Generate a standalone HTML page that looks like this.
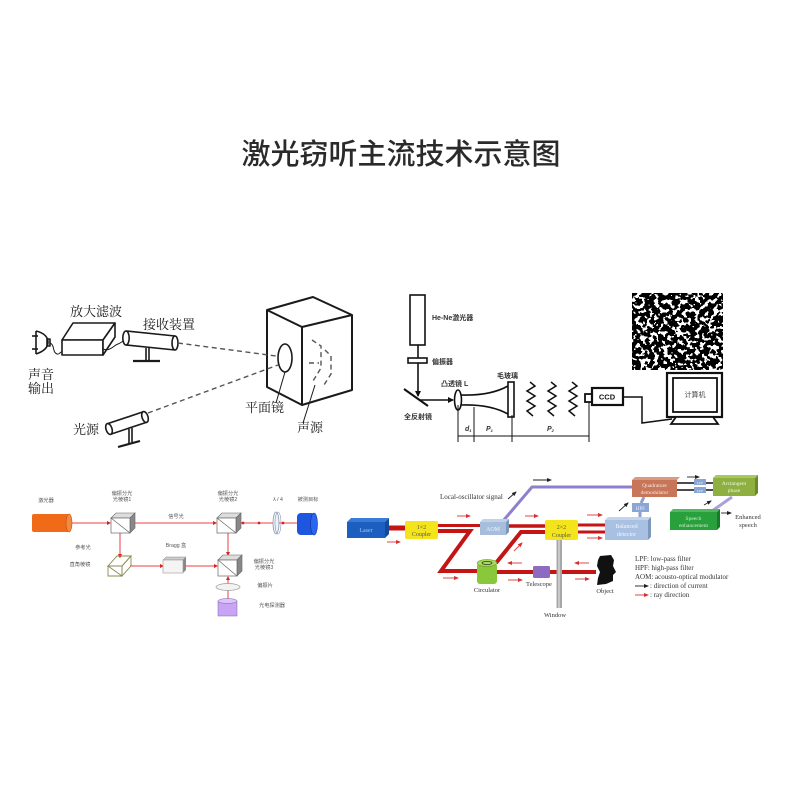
<!DOCTYPE html>
<html><head><meta charset="utf-8"><style>
html,body{margin:0;padding:0;background:#fff;width:800px;height:800px;overflow:hidden}
svg{display:block}
.sf{font-family:"Liberation Serif","Noto Serif CJK SC",serif}
.ss{font-family:"Liberation Sans","Noto Sans CJK SC",sans-serif}
</style></head><body>
<svg width="800" height="800" viewBox="0 0 800 800" xmlns="http://www.w3.org/2000/svg">
<defs>
<filter id="sp" x="0" y="0" width="1" height="1" color-interpolation-filters="sRGB">
 <feTurbulence type="fractalNoise" baseFrequency="0.22" numOctaves="2" seed="7"/>
 <feColorMatrix type="matrix" values="1 0 0 0 0 1 0 0 0 0 1 0 0 0 0 0 0 0 0 1"/>
 <feComponentTransfer>
  <feFuncR type="discrete" tableValues="0 0 0 0 0 0 0 0 0 0 0 1 1 1 1 1 1 1 1 1"/>
  <feFuncG type="discrete" tableValues="0 0 0 0 0 0 0 0 0 0 0 1 1 1 1 1 1 1 1 1"/>
  <feFuncB type="discrete" tableValues="0 0 0 0 0 0 0 0 0 0 0 1 1 1 1 1 1 1 1 1"/>
  <feFuncA type="table" tableValues="1 1"/>
 </feComponentTransfer>
</filter>
<marker id="kb" markerWidth="6" markerHeight="6" refX="5" refY="3" orient="auto" markerUnits="userSpaceOnUse"><path d="M0,0 L6,3 L0,6 Z" fill="#111"/></marker>
<marker id="ra" markerWidth="5" markerHeight="4" refX="4" refY="2" orient="auto" markerUnits="userSpaceOnUse"><path d="M0,0 L5,2 L0,4 Z" fill="#d83030"/></marker>
<marker id="ba" markerWidth="5" markerHeight="4" refX="4" refY="2" orient="auto" markerUnits="userSpaceOnUse"><path d="M0,0 L5,2 L0,4 Z" fill="#222"/></marker>
<marker id="rs" markerWidth="4" markerHeight="4" refX="3" refY="2" orient="auto" markerUnits="userSpaceOnUse"><path d="M0,0 L4,2 L0,4 Z" fill="#e02020"/></marker>
</defs>

<!-- Title -->
<text x="401" y="164" text-anchor="middle" font-family="'Liberation Sans','Noto Sans CJK SC',sans-serif" font-size="29" font-weight="500" fill="#2a2a2a">激光窃听主流技术示意图</text>

<!-- ========== Top-left diagram ========== -->
<g stroke="#1a1a1a" stroke-width="1.6" fill="none" stroke-linejoin="round">
 <line x1="36" y1="331" x2="36" y2="354"/>
 <line x1="32" y1="336" x2="38" y2="336"/>
 <line x1="32" y1="349" x2="38" y2="349"/>
 <path d="M36 331 C45 333 48 338 48 342 C48 347 45 351 36 354"/>
 <rect x="47" y="339" width="3" height="7"/>
 <path d="M50 343 C55 345 52 352 57 354 C60 355 61 350 63 352" stroke-width="1"/>
 <polygon points="62,340 73,323 115,323 103,340" fill="#fff"/>
 <rect x="62" y="340" width="41" height="15" fill="#fff"/>
 <polygon points="103,340 115,323 115,337 103,355" fill="#fff"/>
 <path d="M103 349 C110 352 114 345 118 344 C121 343 122 341 124 341" stroke-width="1"/>
 <line x1="126" y1="331" x2="175" y2="336"/>
 <line x1="126" y1="345" x2="175" y2="350"/>
 <ellipse cx="126" cy="338" rx="3.2" ry="7" fill="#fff"/>
 <ellipse cx="175" cy="343" rx="3" ry="7" fill="#fff"/>
 <line x1="146" y1="348" x2="146" y2="360"/>
 <line x1="149" y1="348" x2="149" y2="360"/>
 <line x1="133" y1="361" x2="160" y2="361" stroke-width="2.2"/>
 <line x1="107.3" y1="423.8" x2="143.3" y2="411.8"/>
 <line x1="110.7" y1="434.2" x2="146.7" y2="422.2"/>
 <ellipse cx="109" cy="429" rx="3" ry="5.6" transform="rotate(-18 109 429)" fill="#fff"/>
 <ellipse cx="145" cy="417" rx="3" ry="5.6" transform="rotate(-18 145 417)" fill="#fff"/>
 <line x1="129" y1="429" x2="129" y2="443"/>
 <line x1="132" y1="428" x2="132" y2="442"/>
 <line x1="118" y1="447" x2="140" y2="441" stroke-width="2.2"/>
 <path d="M267 310 L313 297 L352 315 L302 327 Z" stroke-width="2"/>
 <path d="M267 310 L267 387 L302 405 L302 327" stroke-width="2"/>
 <path d="M352 315 L352 390 L302 405" stroke-width="2"/>
 <ellipse cx="285" cy="358" rx="7" ry="14"/>
 <line x1="276" y1="403" x2="285" y2="372" stroke-width="1"/>
 <line x1="303" y1="423" x2="315" y2="385" stroke-width="1"/>
</g>
<g stroke="#555" stroke-width="1.4" fill="none" stroke-dasharray="5 3.5">
 <line x1="178" y1="343" x2="276" y2="356"/>
 <line x1="148" y1="413" x2="278" y2="365"/>
 <path d="M312 340 L321 346 L321 368 L313 381"/>
 <path d="M325 350 L331 356 L331 374 L324 385"/>
 <line x1="309" y1="363" x2="319" y2="363"/>
</g>
<g class="sf" font-size="13" fill="#1a1a1a">
 <text x="70" y="316">放大滤波</text>
 <text x="143" y="329">接收装置</text>
 <text x="28" y="379">声音</text>
 <text x="28" y="393">输出</text>
 <text x="245" y="412">平面镜</text>
 <text x="297" y="432">声源</text>
 <text x="73" y="434">光源</text>
</g>

<!-- ========== Top-right diagram ========== -->
<rect x="632" y="293" width="91" height="77" filter="url(#sp)"/>
<g stroke="#111" stroke-width="1.6" fill="none">
 <rect x="410" y="295" width="15" height="50"/>
 <line x1="418" y1="345" x2="418" y2="358"/>
 <rect x="408" y="358" width="19" height="5"/>
 <line x1="418" y1="363" x2="418" y2="396" marker-end="url(#kb)"/>
 <line x1="404" y1="389" x2="428" y2="406" stroke-width="2"/>
 <line x1="420" y1="400" x2="453" y2="400" marker-end="url(#kb)"/>
 <ellipse cx="458" cy="400" rx="3.5" ry="10" fill="#fff"/>
 <path d="M461 395 Q490 396 508 386"/>
 <path d="M461 405 Q490 404 508 414"/>
 <rect x="508" y="382" width="6" height="35" fill="#fff"/>
 <polyline points="530,382 535,386 527,391 535,396 527,401 535,406 527,411 533,416" stroke-width="1.5"/>
 <polyline points="551,382 556,386 548,391 556,396 548,401 556,406 548,411 554,416" stroke-width="1.5"/>
 <polyline points="572,382 577,386 569,391 577,396 569,401 577,406 569,411 575,416" stroke-width="1.5"/>
 <rect x="585" y="394" width="7" height="8" stroke-width="1.8"/>
 <rect x="592" y="388" width="31" height="17" stroke-width="2.2"/>
 <polyline points="623,397 642,397 642,423 672,419" stroke-width="1.5"/>
 <rect x="667" y="373" width="55" height="44" stroke-width="2.2" fill="#fff"/>
 <rect x="673" y="378" width="44" height="34" stroke-width="1.8"/>
 <polygon points="676,417 713,417 718,424 671,424" stroke-width="1.8" fill="#fff"/>
 <g stroke-width="1">
  <line x1="458" y1="436" x2="589" y2="436"/>
  <line x1="458" y1="405" x2="458" y2="442"/>
  <line x1="474" y1="407" x2="474" y2="442"/>
  <line x1="512" y1="415" x2="512" y2="442"/>
  <line x1="589" y1="402" x2="589" y2="442"/>
 </g>
</g>
<g class="ss" font-size="7" font-weight="bold" fill="#333">
 <text x="432" y="320">He-Ne激光器</text>
 <text x="432" y="364">偏振器</text>
 <text x="441" y="386">凸透镜 L</text>
 <text x="497" y="378">毛玻璃</text>
 <text x="404" y="419">全反射镜</text>
 <text x="607" y="399.5" text-anchor="middle" font-size="7.5" fill="#111">CCD</text>
 <text x="695" y="397" text-anchor="middle" font-weight="normal" fill="#444">计算机</text>
 <text x="465" y="431" font-style="italic">d<tspan font-size="4" dy="1">1</tspan></text>
 <text x="486" y="431" font-style="italic">P<tspan font-size="4" dy="1">1</tspan></text>
 <text x="547" y="431" font-style="italic">P<tspan font-size="4" dy="1">2</tspan></text>
</g>

<!-- ========== Bottom-left diagram ========== -->
<g>
 <rect x="32" y="514" width="38" height="18" rx="2" fill="#f06a18"/>
 <ellipse cx="69" cy="523" rx="3" ry="9" fill="#f48a40" stroke="#c05010" stroke-width="0.6"/>
 <g stroke="#e84040" stroke-width="1" fill="none">
  <line x1="72" y1="523" x2="110" y2="523" marker-end="url(#rs)"/>
  <line x1="133" y1="523" x2="216" y2="523" marker-end="url(#rs)"/>
  <line x1="240" y1="523" x2="297" y2="523"/>
  <line x1="120" y1="533" x2="120" y2="557" marker-end="url(#rs)"/>
  <line x1="130" y1="566" x2="163" y2="566" marker-end="url(#rs)"/>
  <line x1="185" y1="566" x2="217" y2="566" marker-end="url(#rs)"/>
  <line x1="228" y1="533" x2="228" y2="555" marker-end="url(#rs)"/>
  <line x1="228" y1="600" x2="228" y2="577" marker-end="url(#rs)"/>
 </g>
 <g fill="#e02020">
  <circle cx="243" cy="523" r="1.4"/><circle cx="259" cy="523" r="1.4"/>
  <circle cx="283" cy="523" r="1.4"/><circle cx="228" cy="585" r="1.4"/>
  <circle cx="120" cy="556" r="1.4"/>
 </g>
 <polygon points="111,518 116,513 135,513 130,518" fill="#ddd" stroke="#666" stroke-width="0.6"/>
 <polygon points="130,518 135,513 135,528 130,533" fill="#888" stroke="#666" stroke-width="0.6"/>
 <rect x="111" y="518" width="19" height="15" fill="#fff" stroke="#666" stroke-width="0.7"/>
 <line x1="111" y1="518" x2="130" y2="533" stroke="#666" stroke-width="0.7"/>
 <polygon points="217,518 222,513 241,513 236,518" fill="#ddd" stroke="#666" stroke-width="0.6"/>
 <polygon points="236,518 241,513 241,528 236,533" fill="#888" stroke="#666" stroke-width="0.6"/>
 <rect x="217" y="518" width="19" height="15" fill="#fff" stroke="#666" stroke-width="0.7"/>
 <line x1="217" y1="518" x2="236" y2="533" stroke="#666" stroke-width="0.7"/>
 <polygon points="218,560 223,555 242,555 237,560" fill="#ddd" stroke="#666" stroke-width="0.6"/>
 <polygon points="237,560 242,555 242,571 237,576" fill="#888" stroke="#666" stroke-width="0.6"/>
 <rect x="218" y="560" width="19" height="16" fill="#fff" stroke="#666" stroke-width="0.7"/>
 <line x1="218" y1="560" x2="237" y2="576" stroke="#666" stroke-width="0.7"/>
 <g stroke="#8a8a50" stroke-width="0.9" fill="none">
  <polygon points="108,566 117,556 131,556 122,566"/>
  <polygon points="108,566 122,566 122,576 108,576"/>
  <polygon points="122,566 131,556 131,566 122,576"/>
  <line x1="108" y1="566" x2="122" y2="576"/>
 </g>
 <polygon points="163,560 166,557 186,557 183,560" fill="#ccc" stroke="#888" stroke-width="0.5"/>
 <polygon points="183,560 186,557 186,570 183,573" fill="#888"/>
 <rect x="163" y="560" width="20" height="13" fill="#f4f4f4" stroke="#999" stroke-width="0.6"/>
 <ellipse cx="276" cy="523" rx="3" ry="11" fill="#eef2f8" stroke="#8898b0" stroke-width="0.8"/>
 <ellipse cx="278" cy="523" rx="3" ry="11" fill="none" stroke="#8898b0" stroke-width="0.6"/>
 <rect x="297" y="513" width="18" height="22" rx="4" fill="#1e56e0"/>
 <ellipse cx="314" cy="524" rx="3.5" ry="11" fill="#2a66f0" stroke="#0c34a0" stroke-width="0.6"/>
 <ellipse cx="228" cy="587" rx="12" ry="3.5" fill="#f2f2f2" stroke="#999" stroke-width="0.7"/>
 <rect x="218" y="601" width="19" height="15" fill="#c8a4f4" stroke="#8060b0" stroke-width="0.5"/>
 <ellipse cx="227.5" cy="601" rx="9.5" ry="2.5" fill="#dcc4fa" stroke="#8060b0" stroke-width="0.5"/>
</g>
<g class="ss" font-size="5.2" fill="#555" text-anchor="middle">
 <text x="46" y="502">激光器</text>
 <text x="122" y="495">偏振分光</text><text x="122" y="501">光棱镜1</text>
 <text x="176" y="518">信号光</text>
 <text x="228" y="495">偏振分光</text><text x="228" y="501">光棱镜2</text>
 <text x="278" y="501">λ / 4</text>
 <text x="308" y="501">被测目标</text>
 <text x="83" y="549">参考光</text>
 <text x="80" y="566">直角棱镜</text>
 <text x="176" y="547">Bragg 盒</text>
 <text x="264" y="563">偏振分光</text><text x="264" y="569">光棱镜3</text>
 <text x="265" y="587">偏振片</text>
 <text x="272" y="607">光电探测器</text>
</g>

<!-- ========== Bottom-right diagram ========== -->
<g>
 <polyline points="503,521 532,487 633,487" fill="none" stroke="#8e80cc" stroke-width="3"/>
 <line x1="640" y1="512" x2="640" y2="519" stroke="#8e9ed0" stroke-width="3"/>
 <line x1="641" y1="503" x2="644" y2="497" stroke="#8e9ed0" stroke-width="3"/>
 <line x1="732" y1="497" x2="712" y2="511" stroke="#a8a0d8" stroke-width="3"/>
 <g stroke="#c41414" fill="none" stroke-linejoin="miter">
  <line x1="388" y1="528" x2="405" y2="528" stroke-width="5"/>
  <line x1="438" y1="525.5" x2="480" y2="525.5" stroke-width="3"/>
  <polyline points="438,531 470,531 441,571 478,571" stroke-width="4"/>
  <line x1="506" y1="526" x2="545" y2="526" stroke-width="3.5"/>
  <polyline points="496,563 521,532 545,532" stroke-width="4"/>
  <line x1="578" y1="525" x2="605" y2="525" stroke-width="3"/>
  <line x1="578" y1="532" x2="605" y2="532" stroke-width="3"/>
  <line x1="497" y1="572" x2="596" y2="572" stroke-width="4"/>
 </g>
 <polygon points="347,522 351,518 389,518 385,522" fill="#3a7ad8"/>
 <polygon points="385,522 389,518 389,534 385,538" fill="#164a99"/>
 <rect x="347" y="522" width="38" height="16" fill="#1d5fc0"/>
 <rect x="405" y="521" width="33" height="18" rx="2" fill="#f4e41c"/>
 <polygon points="480,522 483,519 509,519 506,522" fill="#c0d2e8"/>
 <polygon points="506,522 509,519 509,532 506,535" fill="#7e98bc"/>
 <rect x="480" y="522" width="26" height="13" fill="#a6bedc"/>
 <rect x="545" y="520" width="33" height="20" rx="2" fill="#f4e41c"/>
 <polygon points="605,520 608,517 651,517 648,520" fill="#c4d4ec"/>
 <polygon points="648,520 651,517 651,537 648,540" fill="#7e98bc"/>
 <rect x="605" y="520" width="43" height="20" fill="#a8c0e2"/>
 <rect x="632" y="503" width="17" height="9" fill="#8aa6d2"/>
 <polygon points="632,480 635,477 680,477 677,480" fill="#d89a80"/>
 <rect x="632" y="480" width="45" height="17" fill="#c8765a"/>
 <line x1="677" y1="483" x2="713" y2="483" stroke="#111" stroke-width="1.6"/>
 <line x1="677" y1="490" x2="713" y2="490" stroke="#111" stroke-width="1.6"/>
 <rect x="694" y="479" width="12" height="6" fill="#8aa6d2"/>
 <rect x="694" y="487" width="12" height="6" fill="#8aa6d2"/>
 <polygon points="713,478 716,475 758,475 755,478" fill="#a8c860"/>
 <polygon points="755,478 758,475 758,493 755,496" fill="#6a8a2a"/>
 <rect x="713" y="478" width="42" height="18" fill="#8db040"/>
 <polygon points="670,512 673,509 720,509 717,512" fill="#50b860"/>
 <polygon points="717,512 720,509 720,527 717,530" fill="#1a7a2a"/>
 <rect x="670" y="512" width="47" height="18" fill="#28a03c"/>
 <rect x="477" y="563" width="20" height="21" rx="3" fill="#88c83a"/>
 <ellipse cx="487" cy="563" rx="10" ry="3.5" fill="#a8dc58" stroke="#5a8a20" stroke-width="0.5"/>
 <ellipse cx="487" cy="563" rx="5" ry="1.6" fill="none" stroke="#333" stroke-width="0.7"/>
 <rect x="533" y="566" width="17" height="12" rx="1.5" fill="#8c6cc0"/>
 <rect x="556.5" y="540" width="5.5" height="68" fill="#a8a8a8"/>
 <rect x="558" y="540" width="2" height="68" fill="#c8c8c8"/>
 <path d="M600 556 L611 555 L614 560 L613 566 L616 572 L613 575 L613 581 L606 584 L597 585 L598 578 L600 572 L597 566 L598 560 Z" fill="#111"/>
 <g stroke="#d84848" stroke-width="1" fill="none">
  <line x1="387" y1="542" x2="400" y2="542" marker-end="url(#ra)"/>
  <line x1="457" y1="516" x2="470" y2="516" marker-end="url(#ra)"/>
  <line x1="525" y1="516" x2="538" y2="516" marker-end="url(#ra)"/>
  <line x1="443" y1="578" x2="458" y2="578" marker-end="url(#ra)"/>
  <line x1="508" y1="580" x2="522" y2="580" marker-end="url(#ra)"/>
  <line x1="522" y1="563" x2="508" y2="563" marker-end="url(#ra)"/>
  <line x1="514" y1="551" x2="522" y2="543" marker-end="url(#ra)"/>
  <line x1="587" y1="515" x2="602" y2="515" marker-end="url(#ra)"/>
  <line x1="587" y1="538" x2="602" y2="538" marker-end="url(#ra)"/>
  <line x1="589" y1="563" x2="575" y2="563" marker-end="url(#ra)"/>
  <line x1="575" y1="579" x2="589" y2="579" marker-end="url(#ra)"/>
 </g>
 <g stroke="#222" stroke-width="0.9" fill="none">
  <line x1="533" y1="480" x2="551" y2="480" marker-end="url(#ba)"/>
  <line x1="508" y1="499" x2="516" y2="492" marker-end="url(#ba)"/>
  <line x1="619" y1="511" x2="628" y2="503" marker-end="url(#ba)"/>
  <line x1="687" y1="477" x2="699" y2="477" marker-end="url(#ba)"/>
  <line x1="704" y1="505" x2="711" y2="501" marker-end="url(#ba)"/>
  <line x1="721" y1="513" x2="731" y2="513" marker-end="url(#ba)"/>
  <line x1="635" y1="586" x2="648" y2="586" marker-end="url(#ba)"/>
 </g>
 <line x1="635" y1="595" x2="648" y2="595" stroke="#d84848" stroke-width="1" marker-end="url(#ra)"/>
</g>
<g class="sf" text-anchor="middle">
 <text x="366" y="532" font-size="6" fill="#9cc4ee">Laser</text>
 <text x="421.5" y="529" font-size="6" fill="#555">1×2</text>
 <text x="421.5" y="536" font-size="6" fill="#555">Coupler</text>
 <text x="493" y="531" font-size="6" fill="#f0f4fa">AOM</text>
 <text x="561.5" y="529" font-size="6" fill="#555">2×2</text>
 <text x="561.5" y="537" font-size="6" fill="#555">Coupler</text>
 <text x="626.5" y="528" font-size="6" fill="#f4f6fa">Balanced</text>
 <text x="626.5" y="536" font-size="6" fill="#f4f6fa">detector</text>
 <text x="640.5" y="510" font-size="5" fill="#eef">HPF</text>
 <text x="654.5" y="487" font-size="5.5" fill="#f8e8e0">Quadrature</text>
 <text x="654.5" y="494" font-size="5.5" fill="#f8e8e0">demodulator</text>
 <text x="700" y="484" font-size="3.5" fill="#eef">LPF</text>
 <text x="700" y="492" font-size="3.5" fill="#eef">LPF</text>
 <text x="734" y="485" font-size="5.5" fill="#f0f8e0">Arctangent</text>
 <text x="734" y="492" font-size="5.5" fill="#f0f8e0">phase</text>
 <text x="693.5" y="520" font-size="5.5" fill="#cfeccf">Speech</text>
 <text x="693.5" y="527" font-size="5.5" fill="#cfeccf">enhancement</text>
 <text x="748" y="519" font-size="6.5" fill="#333">Enhanced</text>
 <text x="748" y="527" font-size="6.5" fill="#333">speech</text>
 <text x="487" y="592" font-size="6.5" fill="#333">Circulator</text>
 <text x="539" y="586" font-size="6.5" fill="#333">Telescope</text>
 <text x="555" y="617" font-size="6.5" fill="#333">Window</text>
 <text x="605" y="593" font-size="6.5" fill="#333">Object</text>
</g>
<g class="sf" font-size="7" fill="#333">
 <text x="440" y="499">Local-oscillator signal</text>
 <text x="635" y="561">LPF: low-pass filter</text>
 <text x="635" y="570">HPF: high-pass filter</text>
 <text x="635" y="579">AOM: acousto-optical modulator</text>
 <text x="650" y="588">: direction of current</text>
 <text x="650" y="597">: ray direction</text>
</g>
</svg>
</body></html>
